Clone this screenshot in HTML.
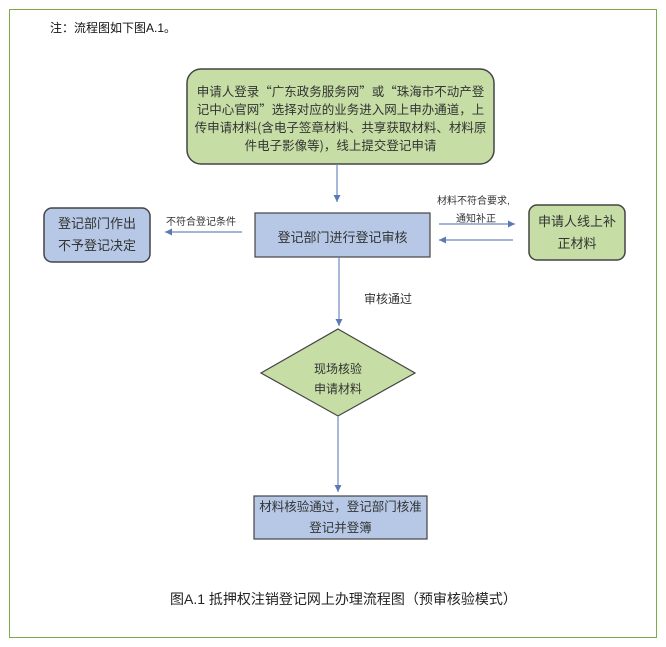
<!DOCTYPE html>
<html><head><meta charset="utf-8"><style>
body{margin:0;background:#fff;width:666px;height:647px;position:relative;overflow:hidden;font-family:"Liberation Sans","Noto Sans CJK SC",sans-serif;}
.a{position:absolute;}
.t{position:absolute;text-align:center;color:#333;}
</style></head><body>
<div class="a" style="left:9px;top:9px;width:646px;height:627px;border:1px solid #7aac4a;"></div>
<div class="a" style="left:50px;top:19px;font-size:12px;color:#111;">注：流程图如下图A.1。</div>
<svg class="a" style="left:0;top:0" width="666" height="647">
<defs><marker id="m" markerWidth="8" markerHeight="8" refX="6" refY="3" orient="auto"><path d="M0,0L6,3L0,6z" fill="#5b7ab5"/></marker></defs>
<rect x="187" y="69" width="307" height="95" rx="14" fill="#c6dea5" stroke="#444" stroke-width="1.5"/>
<rect x="255" y="213" width="175" height="44" fill="#b6c8e6" stroke="#444" stroke-width="1.2"/>
<rect x="44" y="208" width="106" height="54" rx="8" fill="#b6c8e6" stroke="#444" stroke-width="1.5"/>
<rect x="529" y="205" width="96" height="55" rx="8" fill="#c6dea5" stroke="#444" stroke-width="1.5"/>
<polygon points="338,329 415,373 338,416 261,373" fill="#c6dea5" stroke="#444" stroke-width="1.2"/>
<rect x="254" y="496" width="173" height="43" fill="#b6c8e6" stroke="#444" stroke-width="1.2"/>
<g stroke="#6d88bd" stroke-width="1.2" fill="none" marker-end="url(#m)">
<line x1="337" y1="164" x2="337" y2="202"/>
<line x1="339" y1="257" x2="339" y2="326"/>
<line x1="338" y1="416" x2="338" y2="492"/>
<line x1="242" y1="232" x2="165" y2="232"/>
<line x1="439" y1="224" x2="515" y2="224"/>
<line x1="513" y1="240" x2="439" y2="240"/>
</g>
</svg>
<div class="t" style="left:187px;top:82px;width:307px;font-size:12.5px;line-height:18px;font-family:'Noto Sans CJK SC',sans-serif;">申请人登录“广东政务服务网”或“珠海市不动产登<br>记中心官网”选择对应的业务进入网上申办通道，上<br>传申请材料(含电子签章材料、共享获取材料、材料原<br>件电子影像等)，线上提交登记申请</div>
<div class="t" style="left:255px;top:227px;width:175px;font-size:13px;">登记部门进行登记审核</div>
<div class="t" style="left:44px;top:213px;width:106px;font-size:13px;line-height:22px;">登记部门作出<br>不予登记决定</div>
<div class="t" style="left:529px;top:211px;width:96px;font-size:13px;line-height:22px;">申请人线上补<br>正材料</div>
<div class="t" style="left:261px;top:359px;width:154px;font-size:12px;line-height:20px;">现场核验<br>申请材料</div>
<div class="t" style="left:254px;top:497px;width:173px;font-size:12.5px;line-height:21px;">材料核验通过，登记部门核准<br>登记并登簿</div>
<div class="a" style="left:166px;top:213px;font-size:10px;color:#333;">不符合登记条件</div>
<div class="a" style="left:437px;top:192px;font-size:10px;color:#333;">材料不符合要求,</div>
<div class="a" style="left:456px;top:210px;font-size:10px;color:#333;">通知补正</div>
<div class="a" style="left:364px;top:290px;font-size:12px;color:#333;">审核通过</div>
<div class="a" style="left:170px;top:589px;font-size:14px;color:#222;">图A.1 抵押权注销登记网上办理流程图（预审核验模式）</div>
</body></html>
